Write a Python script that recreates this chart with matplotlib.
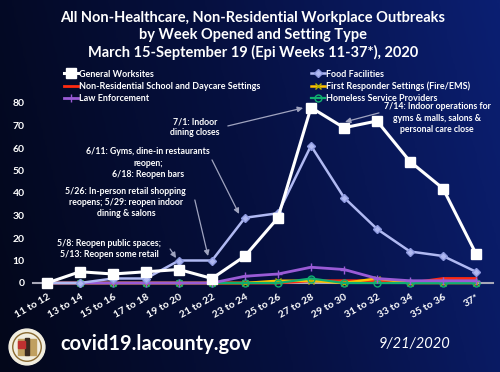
import numpy as np
import matplotlib
matplotlib.use("Agg")
import matplotlib.pyplot as plt
from matplotlib.colors import LinearSegmentedColormap
from matplotlib.patches import Circle, Rectangle

plt.rcParams["font.family"] = ["Lato", "DejaVu Sans"]

# ===========================
# Datos
# ===========================
weeks = ["11 to 12", "13 to 14", "15 to 16", "17 to 18", "19 to 20", "21 to 22",
         "23 to 24", "25 to 26", "27 to 28", "29 to 30", "31 to 32", "33 to 34",
         "35 to 36", "37*"]
general = [0, 5, 4, 5, 6, 2, 12, 29, 78, 69, 72, 54, 42, 13]
food = [0, 0, 2, 2, 10, 10, 29, 31, 61, 38, 24, 14, 12, 5]
school = [0, 0, 0, 0, 0, 0, 0, 0, 1, 1, 1, 0, 2, 2]
first_resp = [0, 0, 0, 0, 0, 0, 0, 1, 1, 0, 2, 0, 0, 0]
law = [0, 0, 0, 0, 0, 0, 3, 4, 7, 6, 2, 1, 1, 1]
homeless = [0, 0, 0, 0, 0, 0, 0, 0, 2, 0, 0, 0, 0, 0]

W, H = 500, 372
fig = plt.figure(figsize=(W / 100, H / 100), dpi=100)

# --- fondo degradado ---
bg = fig.add_axes([0, 0, 1, 1])
cmap = LinearSegmentedColormap.from_list("bg", ["#03071a", "#061040", "#0b1f72"])
gx = np.linspace(0, 1, 256)[None, :]
gy = np.linspace(0, 1, 64)[:, None]
grad = gx * 0.85 + gy * 0.15
bg.imshow(grad, cmap=cmap, aspect="auto", extent=[0, 1, 0, 1], origin="lower")
bg.set_xlim(0, 1)
bg.set_ylim(0, 1)
bg.set_axis_off()

# --- titulo ---
titulo = ["All Non-Healthcare, Non-Residential Workplace Outbreaks",
          "by Week Opened and Setting Type",
          "March 15-September 19 (Epi Weeks 11-37*), 2020"]
for i, t in enumerate(titulo):
    fig.text(0.506, 1 - (18 + 17 * i) / H, t, color="white", fontsize=10.5,
             fontweight="bold", ha="center", va="center")

# --- grafica ---
ax = fig.add_axes([33 / W, 1 - 283 / H, 460 / W, 180 / H])
ax.set_facecolor("none")
x = np.arange(len(weeks))

ax.plot(x, general, color="white", lw=2.2, marker="s", ms=6.5, mec="white",
        label="General Worksites", clip_on=False, zorder=6)
ax.plot(x, school, color="#ff2a10", lw=2, label="Non-Residential School and Daycare Settings",
        clip_on=False, zorder=3)
ax.plot(x, law, color="#9a5bd6", lw=2, marker="+", ms=6, mew=1,
        label="Law Enforcement", clip_on=False, zorder=4)
ax.plot(x, food, color="#b0b9f2", lw=1.8, marker="D", ms=4, mec="#8e9ae0",
        label="Food Facilities", clip_on=False, zorder=5)
ax.plot(x, first_resp, color="#ffc000", lw=1.8, marker="x", ms=5, mew=1, mec="#b8b000",
        label="First Responder Settings (Fire/EMS)", clip_on=False, zorder=3)
ax.plot(x, homeless, color="#10b070", lw=1.6, marker="o", ms=5, mfc="none", mew=1,
        label="Homeless Service Providers", clip_on=False, zorder=3)

ax.set_xlim(-0.424, 13.515)
ax.set_ylim(0, 80)
ax.set_yticks(range(0, 81, 10))
ax.set_xticks(x)
ax.set_xticklabels(weeks, rotation=30, ha="right", rotation_mode="anchor")
ax.tick_params(axis="both", colors="white", labelsize=7.5, length=0)
ax.tick_params(axis="y", pad=6)
ax.tick_params(axis="x", pad=7)
for lbl in ax.get_xticklabels() + ax.get_yticklabels():
    lbl.set_fontweight("bold")
for s in ["top", "right", "left"]:
    ax.spines[s].set_visible(False)
ax.spines["bottom"].set_color("#a8a8b8")
ax.spines["bottom"].set_linewidth(1.5)
ax.spines["bottom"].set_zorder(1)

# --- leyenda (dos columnas) ---
handles, labels = ax.get_legend_handles_labels()
leg = fig.legend(handles, labels, ncol=2, loc="upper left",
                 bbox_to_anchor=(60 / W, 1 - 66 / H), frameon=False,
                 fontsize=6.5, labelcolor="white", handlelength=1.6, handletextpad=0.1,
                 columnspacing=1.0, labelspacing=0.35, borderaxespad=0)
for t in leg.get_texts():
    t.set_fontweight("bold")
# segunda columna alineada con la referencia (x ~ 293 px)
fig.canvas.draw()
cols = leg._legend_handle_box.get_children()
if len(cols) == 2:
    w0 = cols[0].get_window_extent().width
    leg._legend_handle_box.sep = 293 - 60 - w0

# --- anotaciones ---
notas = [
    ("7/1: Indoor\ndining closes", (4.48, 69.3), (5.48, 69.8), (7.76, 77.8)),
    ("7/14: Indoor operations for\ngyms & malls, salons &\npersonal care close",
     (11.82, 73.3), (10.06, 75.6), (9.03, 71.6)),
    ("6/11: Gyms, dine-in restaurants\nreopen;\n6/18: Reopen bars",
     (3.06, 53.3), (5.0, 54.7), (5.82, 30.7)),
    ("5/26: In-person retail shopping\nreopens; 5/29: reopen indoor\ndining & salons",
     (2.39, 35.6), (4.48, 36.9), (4.88, 12)),
    ("5/8: Reopen public spaces;\n5/13: Reopen some retail",
     (1.88, 15.1), (3.73, 15.1), (3.91, 11.1)),
]
for texto, pos, cola, punta in notas:
    ax.text(pos[0], pos[1], texto, color="white", fontsize=6.3, fontweight="bold",
            ha="center", va="center", linespacing=1.3, zorder=8)
    ax.annotate("", xy=punta, xytext=cola,
                arrowprops=dict(arrowstyle="-|>", color="#a0a4c0", lw=0.9,
                                mutation_scale=8, shrinkA=0, shrinkB=0), zorder=7)

# --- pie: sello, sitio web y fecha ---
sello = fig.add_axes([4 / W, 1 - 370 / H, 46 / W, 46 / H])
sello.set_xlim(-1, 1)
sello.set_ylim(-1, 1)
sello.set_aspect("equal")
sello.set_axis_off()
sello.add_patch(Circle((0, 0), 0.78, color="#f2eee0"))
sello.add_patch(Circle((0, 0), 0.62, fill=False, ec="#8a6a30", lw=1))
sello.add_patch(Rectangle((-0.4, -0.35), 0.8, 0.7, color="#c0a060"))
sello.add_patch(Rectangle((-0.08, -0.35), 0.16, 0.75, color="#3a2a20"))
sello.add_patch(Rectangle((-0.4, -0.05), 0.3, 0.3, color="#c03030"))

fig.text(60 / W, 1 - 344 / H, "covid19.lacounty.gov", color="white", fontsize=14.5,
         fontweight="bold", ha="left", va="center")
fig.text(450 / W, 1 - 344 / H, "9/21/2020", color="white", fontsize=10.5,
         fontstyle="italic", ha="right", va="center")

fig.savefig("out.png", dpi=100)
